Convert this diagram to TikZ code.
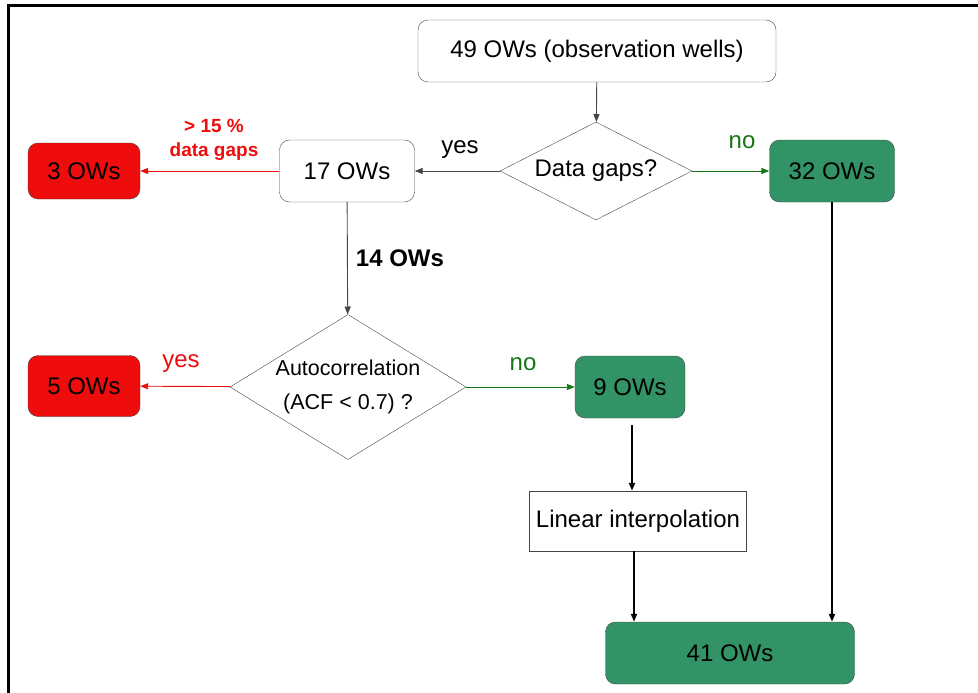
\documentclass[tikz,border=0pt]{standalone}
\usepackage{fontspec}
\setmainfont{Liberation Sans}
\usetikzlibrary{shapes}
\usetikzlibrary{shapes.geometric}
\usetikzlibrary{arrows.meta}
\definecolor{owred}{RGB}{238,12,12}
\definecolor{owgreen}{RGB}{50,148,102}
\definecolor{nogreen}{RGB}{22,118,22}
\definecolor{edge}{RGB}{70,70,70}

\begin{document}
\begin{tikzpicture}[x=1pt,y=-1pt,
  font=\fontsize{24}{28}\selectfont,
  owbox/.style={draw=edge,rounded corners=10pt,minimum height=62pt,inner sep=0pt},
  redbox/.style={owbox,fill=owred,minimum width=112pt,minimum height=56pt},
  greenbox/.style={owbox,fill=owgreen},
  ask/.style={draw=edge,diamond,inner sep=0pt,align=center},
  tip/.style={line width=0.9pt,-{Triangle[length=8pt,width=6pt]}},
  ]
\useasboundingbox (0,0) rectangle (978,693);
\draw[line width=3pt] (8,693) -- (8,6) -- (978,6);

% boxes and questions
\node[owbox,minimum width=358pt] (ow49) at (597,51) {49 OWs (observation wells)};
\node[ask,aspect=1.96,minimum width=192pt,minimum height=98pt] (gaps) at (596,171) {Data gaps?};
\node[owbox,minimum width=135pt] (ow17) at (347,171) {17 OWs};
\node[redbox] (ow3) at (84,171) {3 OWs};
\node[greenbox,minimum width=125pt] (ow32) at (832,171) {32 OWs};
\node[ask,aspect=1.63,minimum width=236pt,minimum height=145pt,
  font=\fontsize{21.5}{34}\selectfont] (acf) at (348,387) {Autocorrelation\\(ACF < 0.7) ?};
\node[redbox,minimum height=61pt] (ow5) at (84,386) {5 OWs};
\node[greenbox,minimum width=110pt] (ow9) at (630,387) {9 OWs};
\node[draw=edge,minimum width=217pt,minimum height=60pt,inner sep=0pt] (lin) at (638,521) {Linear interpolation};
\node[greenbox,minimum width=249pt] (ow41) at (730,653) {41 OWs};

% labels
\node (yes1) at (460,150) {yes};
\node[text=nogreen] (no1) at (742,142) {no};
\node[text=owred,align=center,font=\bfseries\fontsize{19}{24}\selectfont] (note) at (214,140) {> 15 \%\\data gaps};
\node[font=\bfseries\fontsize{24}{28}\selectfont] (n14) at (400,258) {14 OWs};
\node[text=owred] (yes2) at (181,364) {yes};
\node[text=nogreen] (no2) at (523,364) {no};

% connectors
\draw[tip,edge] (ow49) -- (gaps);
\draw[tip,edge] (gaps) -- (ow17);
\draw[tip,owred] (ow17) -- (ow3);
\draw[tip,nogreen] (gaps) -- (ow32);
\draw[tip,edge] (ow17) -- (acf);
\draw[tip,owred] (acf) -- (ow5);
\draw[tip,nogreen] (acf) -- (ow9);
\draw[tip,line width=2pt,shorten <=7pt] ([xshift=2pt]ow9.south) -- ([xshift=2pt]ow9.south |- lin.north);
\draw[tip,line width=2pt] ([xshift=-4pt]lin.south) -- ([xshift=-4pt]lin.south |- ow41.north);
\draw[tip,line width=2pt] (ow32) -- (ow32 |- ow41.north);
\end{tikzpicture}
\end{document}
